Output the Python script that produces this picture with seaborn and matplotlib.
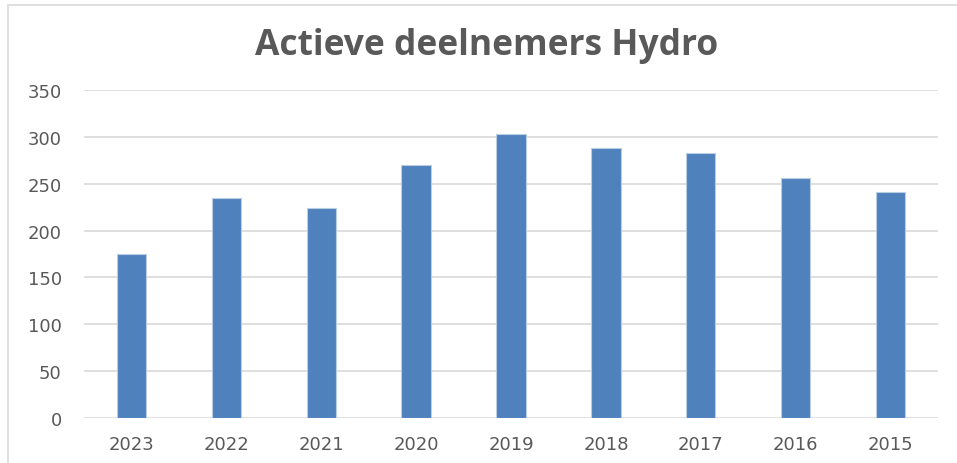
import pandas as pd
import seaborn as sns
import matplotlib.pyplot as plt
from matplotlib.patches import Rectangle

# data
jaren = ['2023', '2022', '2021', '2020', '2019', '2018', '2017', '2016', '2015']
deelnemers = [175, 235, 224, 270, 303, 288, 283, 256, 241]

df = pd.DataFrame({'jaar': jaren, 'deelnemers': deelnemers})

sns.set_style('white')
plt.rcParams['font.family'] = ['DejaVu Sans']

fig = plt.figure(figsize=(9.57, 4.64), dpi=100)
ax = fig.add_axes([84 / 957, 1 - 419 / 464, (938 - 84) / 957, (419 - 91) / 464])

sns.barplot(data=df, x='jaar', y='deelnemers', color='#4f81bd', width=0.31,
            saturation=1, edgecolor='#b9cde5', linewidth=0.8, ax=ax, zorder=3)

ax.set_ylim(0, 350)
ax.set_yticks(range(0, 351, 50))
ax.set_xlim(-0.5, len(jaren) - 0.5)
ax.grid(axis='y', color='#d9d9d9', linewidth=1.2, zorder=0)
for s in ax.spines.values():
    s.set_visible(False)
ax.set_xlabel('')
ax.set_ylabel('')
ax.tick_params(axis='both', length=0, labelsize=13, colors='#595959')
ax.tick_params(axis='y', pad=16)
ax.tick_params(axis='x', pad=12)

fig.text(487 / 957, 1 - 46 / 464, 'Actieve deelnemers Hydro', ha='center', va='center',
         fontsize=25.5, fontweight='bold', color='#595959', family='Open Sans')

# chart frame
fig.patches.append(Rectangle((8 / 957, -0.1), 1.2, 1 - 6 / 464 + 0.1,
                             transform=fig.transFigure, fill=False,
                             edgecolor='#d9d9d9', linewidth=1.2))

fig.savefig('out.png', dpi=100)
